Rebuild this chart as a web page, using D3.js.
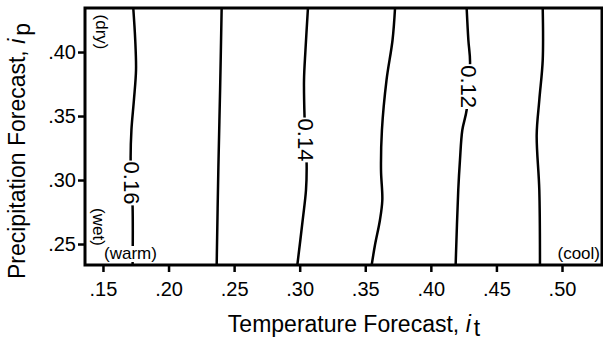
<!DOCTYPE html>
<html>
<head>
<meta charset="utf-8">
<script src="https://cdn.jsdelivr.net/npm/d3@7"></script>
<style>
  body { margin: 0; background: #fff; }
  svg text { font-family: "Liberation Sans", Arial, Helvetica, sans-serif; fill: #000; }
</style>
</head>
<body>
<div class="chart-wrapper"></div>
<script>
// tick values on both axes
const xTicks = [0.15, 0.20, 0.25, 0.30, 0.35, 0.40, 0.45, 0.50];
const yTicks = [0.25, 0.30, 0.35, 0.40];

// contour lines: temperature index (it) at each precipitation index (ip)
const c016_it = [0.1731, 0.1746, 0.1752, 0.1736, 0.1717, 0.1711, 0.1726, 0.1726];
const c016_ip = [0.4344, 0.4094, 0.3859, 0.3625, 0.3391, 0.3156, 0.2789, 0.2336];
const c015_it = [0.2405, 0.2393, 0.2380, 0.2367];
const c015_ip = [0.4344, 0.3700, 0.3100, 0.2336];
const c014_it = [0.3063, 0.3044, 0.3033, 0.3037, 0.3053, 0.3048, 0.3023, 0.2982];
const c014_ip = [0.4344, 0.4016, 0.3781, 0.3492, 0.3117, 0.2922, 0.2688, 0.2336];
const c013_it = [0.3727, 0.3708, 0.3662, 0.3627, 0.3620, 0.3630, 0.3612, 0.3574, 0.3549];
const c013_ip = [0.4344, 0.4094, 0.3781, 0.3391, 0.3078, 0.2844, 0.2688, 0.2492, 0.2336];
const c012_it = [0.4273, 0.4286, 0.4299, 0.4273, 0.4240, 0.4222, 0.4209, 0.4189];
const c012_ip = [0.4344, 0.4094, 0.3922, 0.3547, 0.3391, 0.3156, 0.2922, 0.2336];
const c011_it = [0.4853, 0.4853, 0.4827, 0.4807, 0.4827, 0.4832];
const c011_ip = [0.4344, 0.3937, 0.3625, 0.3352, 0.2922, 0.2336];

// which contours carry an inline label, and at what ip the label sits
const labelText = ['0.16', '0.14', '0.12'];
const labelIp = [0.2977, 0.3313, 0.3730];

const contours = [
    {it: c016_it, ip: c016_ip, label: 0},
    {it: c015_it, ip: c015_ip, label: null},
    {it: c014_it, ip: c014_ip, label: 1},
    {it: c013_it, ip: c013_ip, label: null},
    {it: c012_it, ip: c012_ip, label: 2},
    {it: c011_it, ip: c011_ip, label: null}
];

const W = 603, H = 341;
const plot = {left: 85, right: 602, top: 8, bottom: 265};

const x = d3.scaleLinear().domain([0.1363, 0.5305]).range([plot.left, plot.right]);
const y = d3.scaleLinear().domain([0.2336, 0.4344]).range([plot.bottom, plot.top]);
const fmt = d => d3.format('.2f')(d).replace(/^0/, '');

const svg = d3.select('.chart-wrapper')
    .append('svg')
    .attr('width', W)
    .attr('height', H);

svg.append('defs').append('clipPath').attr('id', 'plotclip')
    .append('rect')
    .attr('x', plot.left).attr('y', plot.top)
    .attr('width', plot.right - plot.left).attr('height', plot.bottom - plot.top);

const line = d3.line()
    .x(d => x(d[0]))
    .y(d => y(d[1]))
    .curve(d3.curveCatmullRom);

const lines = svg.append('g').attr('clip-path', 'url(#plotclip)');

contours.forEach(c => {
    const pts = c.it.map((v, i) => [v, c.ip[i]]);
    lines.append('path')
        .datum(pts)
        .attr('fill', 'none')
        .attr('stroke', '#000')
        .attr('stroke-width', 2.5)
        .attr('d', line);
});

// rotated label with white box behind it, hiding the line
function boxedLabel(parent, px, py, angle, txt, size, anchor) {
    const g = parent.append('g')
        .attr('transform', `translate(${px},${py}) rotate(${angle})`);
    const t = g.append('text')
        .attr('text-anchor', anchor || 'middle')
        .attr('dy', '0.35em')
        .style('font-size', size + 'px')
        .text(txt);
    const bb = t.node().getBBox();
    g.insert('rect', 'text')
        .attr('x', bb.x - 1).attr('y', bb.y + 1)
        .attr('width', bb.width + 2).attr('height', bb.height - 2)
        .attr('fill', '#fff');
    return g;
}

contours.forEach(c => {
    if (c.label === null) return;
    const ipToIt = d3.scaleLinear().domain(c.ip).range(c.it);
    const ip = labelIp[c.label];
    boxedLabel(lines, x(ipToIt(ip)), y(ip), 90, labelText[c.label], 22);
});

// corner notes
boxedLabel(svg, plot.left + 17, plot.top + 24, 90, '(dry)', 17);
boxedLabel(svg, plot.left + 14, plot.bottom - 38, 90, '(wet)', 17);

const warm = svg.append('text')
    .attr('x', plot.left + 19).attr('y', plot.bottom - 6)
    .style('font-size', '17px')
    .text('(warm)');
const wb = warm.node().getBBox();
svg.insert('rect', () => warm.node())
    .attr('x', wb.x - 1).attr('y', wb.y + 2)
    .attr('width', wb.width + 2).attr('height', wb.height - 3)
    .attr('fill', '#fff');

svg.append('text')
    .attr('x', plot.right - 2).attr('y', plot.bottom - 6)
    .attr('text-anchor', 'end')
    .style('font-size', '17px')
    .text('(cool)');

// frame
svg.append('rect')
    .attr('x', plot.left).attr('y', plot.top)
    .attr('width', plot.right - plot.left).attr('height', plot.bottom - plot.top)
    .attr('fill', 'none')
    .attr('stroke', '#000')
    .attr('stroke-width', 3);

// axes
const xAxis = svg.append('g')
    .attr('transform', `translate(0,${plot.bottom})`)
    .call(d3.axisBottom(x).tickValues(xTicks).tickFormat(fmt).tickSize(7).tickPadding(10).tickSizeOuter(0));
const yAxis = svg.append('g')
    .attr('transform', `translate(${plot.left},0)`)
    .call(d3.axisLeft(y).tickValues(yTicks).tickFormat(fmt).tickSize(7).tickPadding(2).tickSizeOuter(0));

[xAxis, yAxis].forEach(a => {
    a.select('.domain').remove();
    a.selectAll('line').attr('stroke', '#000').attr('stroke-width', 2.5);
    a.selectAll('text')
        .style('font-family', '"Liberation Sans", Arial, Helvetica, sans-serif')
        .style('font-size', '20px')
        .attr('fill', '#000');
});

// axis titles
const xt = svg.append('text')
    .attr('x', 354).attr('y', 332)
    .attr('text-anchor', 'middle')
    .style('font-size', '23px');
xt.append('tspan').text('Temperature Forecast, ');
xt.append('tspan').style('font-style', 'italic').text('i');
xt.append('tspan').attr('dx', 3).attr('dy', 4).text('t');

const yt = svg.append('text')
    .attr('transform', 'translate(25,151) rotate(-90)')
    .attr('text-anchor', 'middle')
    .style('font-size', '23px');
yt.append('tspan').text('Precipitation Forecast, ');
yt.append('tspan').style('font-style', 'italic').text('i');
yt.append('tspan').attr('dx', 3).attr('dy', 5).text('p');
</script>
</body>
</html>
